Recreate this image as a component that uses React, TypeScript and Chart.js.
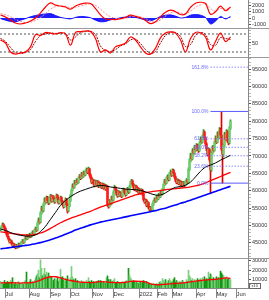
import React, { useEffect, useRef } from "react";
import { Chart, registerables } from "chart.js";

Chart.register(...registerables);
Chart.defaults.font.family = '"Liberation Sans", Arial, sans-serif';

// ---- daily price data (thousand VND) ----
const closes = [
  49.0, 49.6, 50.3, 49.8, 49.2, 48.4, 47.6, 46.8, 46.1, 45.3,
  45.6, 44.9, 44.3, 44.6, 44.0, 43.7, 44.3, 43.9, 44.6, 44.1,
  44.8, 45.1, 45.6, 45.2, 46.0, 46.6, 46.2, 47.0, 46.7, 47.4,
  46.9, 47.6, 48.1, 47.7, 48.6, 49.1, 48.7, 50.6, 51.6, 51.0,
  53.6, 55.1, 54.3, 56.1, 57.6, 56.8, 58.1, 57.2, 56.5, 57.9,
  58.6, 57.0, 58.3, 57.6, 56.8, 57.6, 58.7, 57.9, 56.5, 57.3,
  58.1, 57.0, 56.2, 55.4, 56.8, 57.6, 56.0, 54.2, 55.6, 57.1,
  58.6, 60.1, 61.6, 61.0, 62.6, 62.0, 63.1, 62.4, 63.6, 64.3,
  63.6, 64.9, 64.1, 65.3, 64.6, 65.6, 66.1, 65.3, 66.3, 64.6,
  63.8, 62.5, 63.1, 62.0, 61.5, 62.7, 61.8, 62.6, 61.2, 62.1,
  61.5, 61.0, 61.9, 60.8, 61.6, 60.5, 61.3, 56.1, 55.5, 57.1,
  56.2, 58.1, 57.3, 59.6, 61.0, 60.2, 59.0, 58.5, 59.7, 58.8,
  59.3, 58.4, 59.9, 60.4, 59.5, 58.8, 60.0, 60.6, 59.6, 61.1,
  62.3, 62.9, 61.9, 61.0, 60.4, 61.3, 60.0, 60.7, 59.5, 60.3,
  59.4, 60.2, 59.0, 57.5, 56.8, 57.3, 55.8, 56.6, 55.2, 54.6,
  55.1, 54.5, 56.1, 56.9, 57.6, 57.0, 58.3, 57.7, 58.9, 58.3,
  59.6, 59.0, 60.3, 61.6, 62.9, 62.2, 63.6, 64.1, 63.2, 64.9,
  65.3, 64.5, 65.9, 65.0, 64.0, 63.0, 62.4, 63.1, 62.0, 62.7,
  61.8, 62.4, 61.5, 62.3, 61.6, 62.5, 63.1, 62.5, 66.1, 68.6,
  70.1, 69.2, 71.6, 70.8, 72.6, 71.8, 73.1, 72.2, 71.5, 73.6,
  74.9, 74.0, 75.6, 76.9, 75.2, 73.5, 72.0, 70.5, 71.9, 69.0,
  66.0, 70.8, 72.5, 71.6, 73.8, 75.2, 74.0, 76.5, 75.3, 77.5,
  76.0, 72.0, 70.5, 73.0, 76.2, 74.8, 77.0, 74.5, 73.8, 78.0,
  80.0,
];
const highs = [
  49.5, 50.0, 50.8, 50.6, 50.0, 49.4, 48.6, 47.9, 47.0, 46.3,
  46.0, 45.8, 45.2, 45.0, 44.8, 44.2, 44.6, 44.5, 45.0, 44.9,
  45.1, 45.5, 46.0, 45.9, 46.3, 47.0, 47.0, 47.4, 47.3, 47.8,
  47.6, 48.0, 48.5, 48.4, 49.0, 49.6, 49.5, 51.0, 52.2, 52.0,
  54.0, 55.6, 55.5, 56.5, 58.0, 58.0, 58.5, 58.4, 57.5, 58.2,
  59.0, 58.8, 58.7, 58.6, 57.9, 58.0, 59.1, 58.9, 58.1, 57.7,
  58.5, 58.3, 57.2, 56.5, 57.2, 58.0, 57.8, 56.2, 56.0, 57.5,
  59.0, 60.5, 62.0, 62.0, 63.0, 63.0, 63.5, 63.4, 64.0, 64.7,
  64.6, 65.3, 65.2, 65.7, 65.6, 66.0, 66.6, 66.4, 66.8, 66.5,
  64.9, 64.0, 63.5, 63.3, 62.3, 63.1, 62.9, 63.0, 62.8, 62.5,
  62.4, 61.8, 62.3, 62.1, 62.0, 61.8, 61.7, 61.5, 56.6, 57.5,
  57.4, 58.5, 58.4, 60.0, 61.6, 61.2, 60.4, 59.3, 60.1, 59.9,
  59.7, 59.5, 60.3, 60.8, 60.6, 59.7, 60.4, 61.0, 60.8, 61.5,
  62.8, 63.3, 63.1, 62.1, 61.3, 61.7, 61.5, 61.1, 60.9, 60.7,
  60.5, 60.6, 60.4, 59.2, 57.8, 57.7, 57.5, 57.0, 56.8, 55.5,
  55.5, 55.3, 56.5, 57.3, 58.0, 57.9, 58.7, 58.6, 59.3, 59.2,
  60.0, 59.9, 60.7, 62.0, 63.3, 63.2, 64.0, 64.6, 64.4, 65.3,
  66.0, 65.6, 66.3, 66.2, 65.3, 64.3, 63.3, 63.5, 63.3, 63.1,
  62.9, 62.8, 62.6, 62.7, 62.5, 62.9, 63.5, 63.3, 66.6, 69.2,
  70.8, 70.6, 72.1, 72.0, 73.1, 73.0, 73.6, 73.4, 72.6, 74.1,
  75.5, 75.3, 76.1, 77.6, 77.2, 75.5, 73.8, 72.3, 72.4, 72.1,
  69.4, 71.3, 73.0, 72.9, 74.3, 75.8, 75.5, 77.0, 76.8, 78.2,
  78.0, 82.8, 72.5, 73.5, 76.8, 76.6, 77.6, 77.3, 75.0, 78.5,
  80.4,
];
const lows = [
  48.5, 48.8, 49.4, 49.5, 48.9, 48.0, 47.2, 46.5, 45.8, 45.0,
  45.0, 44.6, 44.0, 44.0, 43.7, 43.3, 43.5, 43.5, 43.7, 43.8,
  43.9, 44.5, 44.9, 44.9, 45.0, 45.8, 45.9, 46.0, 46.4, 46.5,
  46.5, 46.7, 47.4, 47.3, 47.5, 48.3, 48.3, 48.5, 50.3, 50.5,
  50.8, 53.2, 53.8, 54.0, 55.8, 56.4, 56.5, 56.9, 56.0, 56.2,
  57.6, 56.7, 56.8, 57.2, 56.4, 56.5, 57.4, 57.5, 56.2, 56.2,
  57.0, 56.7, 55.8, 55.0, 55.2, 56.5, 55.7, 53.6, 54.0, 55.4,
  56.9, 58.4, 59.9, 60.6, 60.8, 61.6, 61.8, 62.0, 62.2, 63.3,
  63.2, 63.4, 63.7, 63.9, 64.2, 64.4, 65.3, 64.9, 65.1, 64.2,
  63.4, 62.1, 62.2, 61.7, 61.1, 61.3, 61.4, 61.6, 60.9, 61.0,
  61.1, 60.6, 60.8, 60.4, 60.6, 60.1, 60.3, 55.6, 55.0, 55.3,
  55.8, 56.0, 57.0, 57.1, 59.4, 59.8, 58.7, 58.1, 58.3, 58.4,
  58.5, 58.0, 58.2, 59.6, 59.1, 58.4, 58.6, 59.7, 59.2, 59.4,
  60.9, 62.0, 61.5, 60.6, 60.0, 60.2, 59.7, 59.8, 59.1, 59.3,
  59.0, 59.2, 58.6, 57.1, 56.4, 56.5, 55.4, 55.5, 54.8, 54.2,
  54.2, 54.0, 54.3, 55.8, 56.6, 56.7, 56.8, 57.3, 57.5, 58.0,
  58.1, 58.7, 58.8, 60.1, 61.4, 61.8, 62.0, 63.3, 62.8, 63.0,
  64.6, 64.1, 64.3, 64.6, 63.6, 62.6, 62.0, 62.2, 61.7, 61.8,
  61.4, 61.6, 61.1, 61.3, 61.2, 61.4, 62.2, 62.1, 62.3, 65.8,
  68.2, 68.7, 69.0, 70.3, 70.6, 71.3, 71.5, 71.8, 71.0, 71.3,
  73.3, 73.6, 73.8, 75.3, 74.8, 73.0, 71.5, 70.0, 70.2, 68.5,
  59.3, 65.6, 70.5, 71.1, 71.4, 73.5, 73.6, 73.8, 74.9, 75.0,
  75.5, 71.5, 62.2, 69.8, 72.6, 74.3, 74.5, 73.9, 73.2, 73.5,
  77.6,
];
const firstOpen = 48.8;

// daily volume (thousand shares)
const volumes = [
  8, 6, 7, 5, 9, 6, 7, 8, 6, 7,
  9, 7, 12, 6, 5, 7, 6, 5, 8, 6,
  5, 6, 7, 5, 8, 9, 18, 7, 6, 8,
  10, 7, 8, 6, 9, 11, 14, 16, 20, 12,
  31, 22, 14, 16, 22, 15, 18, 12, 17, 14,
  12, 13, 10, 9, 11, 10, 9, 12, 8, 10,
  21, 12, 13, 9, 8, 11, 10, 14, 9, 8,
  12, 24, 13, 10, 9, 11, 8, 9, 7, 8,
  6, 9, 7, 8, 6, 7, 9, 6, 12, 8,
  7, 9, 6, 8, 7, 6, 8, 7, 9, 6,
  9, 7, 6, 8, 7, 6, 12, 14, 10, 8,
  10, 7, 8, 9, 11, 7, 6, 8, 7, 6,
  7, 6, 8, 7, 6, 8, 9, 7, 22, 15,
  12, 10, 8, 9, 7, 6, 8, 7, 6, 8,
  7, 6, 8, 9, 7, 6, 8, 7, 6, 5,
  6, 5, 4, 6, 5, 4, 6, 5, 4, 7,
  8, 6, 11, 9, 7, 10, 8, 6, 9, 11,
  9, 7, 8, 10, 12, 7, 9, 8, 6, 8,
  7, 6, 9, 8, 6, 7, 10, 8, 20, 14,
  12, 9, 11, 8, 10, 7, 9, 11, 8, 10,
  11, 9, 12, 10, 13, 9, 11, 10, 18, 12,
  16, 14, 10, 12, 9, 11, 13, 10, 12, 11,
  19, 17, 15, 14, 12, 11, 13, 10, 11, 9,
  10,
];

// ---- indicator lines, read at every 5th session ----
const sampleDays = [
  0, 5, 10, 15, 20, 25, 30, 35, 40, 45,
  50, 55, 60, 65, 70, 75, 80, 85, 90, 95,
  100, 105, 110, 115, 120, 125, 130, 135, 140, 145,
  150, 155, 160, 165, 170, 175, 180, 185, 190, 195,
  200, 205, 210, 215, 220, 225, 230,
];
const ma20 = [
  49.0, 48.6, 48.0, 47.5, 47.2, 47.0, 47.0, 47.3, 48.3, 49.8,
  51.8, 53.8, 55.8, 57.2, 58.3, 59.2, 59.9, 60.4, 60.9, 61.3,
  61.5, 61.4, 61.1, 60.9, 60.7, 60.5, 60.4, 60.3, 60.1, 59.7,
  59.2, 58.8, 58.8, 59.4, 60.3, 61.0, 61.2, 61.6, 62.5, 64.0,
  65.6, 66.8, 67.4, 68.0, 68.8, 69.5, 70.2,
];
const ma50 = [
  48.2, 48.0, 47.8, 47.6, 47.4, 47.3, 47.3, 47.5, 47.9, 48.4,
  49.2, 50.0, 50.8, 51.5, 52.1, 52.6, 53.1, 53.6, 54.1, 54.7,
  55.3, 55.8, 56.3, 56.8, 57.3, 57.8, 58.3, 58.8, 59.2, 59.5,
  59.7, 59.9, 60.1, 60.3, 60.5, 60.6, 60.8, 60.9, 61.1, 61.4,
  61.8, 62.3, 62.9, 63.5, 64.1, 64.7, 65.3,
];
const ma200 = [
  43.3, 43.5, 43.7, 43.9, 44.1, 44.3, 44.5, 44.8, 45.1, 45.5,
  45.9, 46.4, 46.9, 47.5, 48.1, 48.7, 49.2, 49.7, 50.2, 50.6,
  51.0, 51.3, 51.6, 51.9, 52.2, 52.5, 52.8, 53.1, 53.4, 53.7,
  54.0, 54.3, 54.7, 55.0, 55.5, 55.9, 56.4, 56.8, 57.3, 57.8,
  58.3, 58.8, 59.3, 59.8, 60.3, 60.8, 61.3,
];
const macdLine = [
  480, 160, -320, -800, -950, -800, -480, 0, 800, 1750,
  2400, 2050, 1900, 1750, 1400, 1900, 2200, 2350, 2300, 1500,
  500, -150, -200, -250, -100, 100, 450, 250, 50, -400,
  -900, -600, 200, 900, 1250, 1000, 550, 650, 1700, 2350,
  2500, 2300, 600, 1000, 1900, 1150, 1750,
];
const macdSignal = [
  700, 500, 200, -200, -550, -700, -650, -400, 100, 700,
  1400, 1800, 1900, 1850, 1650, 1700, 1900, 2100, 2250, 2000,
  1400, 700, 200, -50, -150, -50, 200, 300, 200, -100,
  -500, -650, -300, 300, 800, 1000, 800, 700, 1100, 1700,
  2100, 2300, 1500, 1100, 1500, 1400, 1550,
];
const macdHist = [
  -100, -350, -550, -600, -350, -100, 200, 400, 550, 650,
  700, 400, 100, -50, -150, 100, 250, 200, 50, -350,
  -600, -550, -300, -150, 50, 150, 250, 100, -100, -300,
  -450, -150, 250, 450, 500, 300, 0, 100, 450, 550,
  450, 100, -950, -500, 250, -150, 250,
];
const stochK = [
  60, 50, 20, 13, 17, 20, 37, 78, 75, 85,
  83, 80, 85, 80, 43, 85, 88, 90, 88, 65,
  20, 27, 17, 37, 43, 50, 70, 60, 37, 17,
  13, 33, 67, 83, 87, 83, 60, 20, 65, 85,
  84, 70, 27, 55, 83, 55, 70,
];
const stochD = [
  65, 55, 35, 18, 15, 18, 28, 55, 75, 80,
  83, 82, 82, 82, 60, 70, 85, 88, 89, 78,
  40, 25, 22, 28, 40, 47, 60, 63, 48, 28,
  15, 22, 50, 75, 85, 85, 72, 38, 45, 75,
  85, 78, 45, 42, 68, 65, 62,
];
const volMa = [
  6.5, 6.5, 6.6, 6.5, 6.3, 6.5, 6.6, 7.5, 9.5, 11.8,
  13.0, 13.0, 11.8, 10.2, 9.0, 8.0, 7.3, 7.0, 6.8, 7.2,
  7.8, 7.5, 7.0, 6.8, 6.8, 7.0, 8.0, 8.2, 8.0, 7.5,
  5.5, 4.5, 4.5, 5.0, 5.5, 5.8, 6.3, 6.8, 7.6, 8.3,
  9.0, 9.5, 10.0, 10.2, 11.0, 11.8, 11.2,
];

// ---- axes / annotations ----
const monthTicks = [5, 29, 50, 70, 92, 113, 139, 157, 172, 196, 216, 236];
const monthLabels = ["Jul", "Aug", "Sep", "Oct", "Nov", "Dec", "2022", "Feb", "Mar", "Apr", "May", "Jun"];
const priceTicks = [45000, 50000, 55000, 60000, 65000, 70000, 75000, 80000, 85000, 90000, 95000];
const macdTicks = [-1000, 0, 1000, 2000];
const stochTicks = [50];
const stochBands = [80, 20];
const volTicks = [10000, 20000, 30000];
const fibLow = 62200;
const fibHigh = 82800;
const fibLevels = [161.8, 100, 61.8, 50, 38.2, 23.6, 0];
const fibStartDay = 210;

const X_MIN = -0.5;
const X_MAX = 247.5;
const AXIS_W = 21;
const K = 1000;

const fibValue = (p: number) => fibLow + ((fibHigh - fibLow) * p) / 100;
const pts = (xs: number[], ys: number[], mul = 1) => xs.map((x, i) => ({ x, y: ys[i] * mul }));
const opens = closes.map((c, i) => (i === 0 ? firstOpen : closes[i - 1]));
const isUp = closes.map((c, i) => c >= opens[i]);

const framePlugin = {
  id: "frame",
  afterDraw(chart: any, _a: any, opts: any) {
    if (!opts || !opts.top) return;
    const { ctx, chartArea } = chart;
    ctx.save();
    ctx.strokeStyle = "#9a9a9a";
    ctx.lineWidth = 1;
    const y = Math.round(chartArea.top) + 0.5;
    ctx.beginPath();
    ctx.moveTo(0, y);
    ctx.lineTo(chart.width, y);
    ctx.stroke();
    ctx.restore();
  },
};

const fibLabelPlugin = {
  id: "fibLabels",
  afterDatasetsDraw(chart: any) {
    const { ctx, scales } = chart;
    ctx.save();
    ctx.font = '5px "Liberation Sans", Arial, sans-serif';
    ctx.fillStyle = "#6b6bff";
    ctx.textAlign = "right";
    ctx.textBaseline = "middle";
    const x = scales.x.getPixelForValue(fibStartDay) - 2;
    fibLevels.forEach((p) => {
      ctx.fillText(p.toFixed(1) + "%", x, scales.y.getPixelForValue(fibValue(p)));
    });
    ctx.restore();
  },
};

const unitBoxPlugin = {
  id: "unitBox",
  afterDraw(chart: any) {
    const { ctx, chartArea } = chart;
    ctx.save();
    ctx.strokeStyle = "#666";
    ctx.lineWidth = 1;
    const x = chartArea.right + 1.5;
    const y = chartArea.bottom - 4.5;
    ctx.strokeRect(x, y, 11, 5);
    ctx.fillStyle = "#333";
    ctx.font = '4px "Liberation Sans", Arial, sans-serif';
    ctx.textBaseline = "middle";
    ctx.fillText("x10", x + 2, y + 2.8);
    ctx.restore();
  },
};

function hiddenX() {
  return { type: "linear", min: X_MIN, max: X_MAX, offset: false, display: false, grid: { offset: false } };
}

function rightAxis(min: number, max: number, step: number, majors: number[]) {
  const all: number[] = [];
  for (let v = Math.ceil(min / step) * step; v <= max; v += step) all.push(v);
  return {
    type: "linear",
    position: "right",
    min,
    max,
    afterBuildTicks: (s: any) => {
      s.ticks = all.map((value) => ({ value }));
    },
    afterFit: (s: any) => {
      s.width = AXIS_W;
      s.paddingTop = 0;
      s.paddingBottom = 0;
    },
    ticks: {
      autoSkip: false,
      padding: 1,
      color: "#333",
      font: { size: 5.5 },
      callback: (v: number) => (majors.includes(v) ? String(v) : ""),
    },
    grid: {
      drawOnChartArea: false,
      drawTicks: true,
      tickLength: 3,
      color: (c: any) => (c.tick && majors.includes(c.tick.value) ? "#555" : "#b5b5b5"),
    },
    border: { display: true, color: "#888" },
  };
}

const baseOptions = {
  responsive: false,
  animation: false,
  devicePixelRatio: 1,
  events: [],
  layout: { padding: 0 },
};

const line = (data: any[], color: string, width: number, extra: any = {}) => ({
  type: "line",
  data,
  borderColor: color,
  borderWidth: width,
  pointRadius: 0,
  tension: 0.4,
  fill: false,
  order: 0,
  ...extra,
});

function macdConfig() {
  return {
    type: "line",
    data: {
      datasets: [
        line(pts(sampleDays, macdHist), "#0000ff", 0.8, { backgroundColor: "#2020ff", fill: "origin", tension: 0.3, order: 3 }),
        line(pts(sampleDays, macdSignal), "#ff8a8a", 1, { borderDash: [2, 1.5], order: 2 }),
        line(pts(sampleDays, macdLine), "#ff0000", 1.2, { order: 1 }),
      ],
    },
    options: {
      ...baseOptions,
      scales: { x: hiddenX(), y: rightAxis(-1587, 2857, 500, macdTicks) },
      plugins: { legend: { display: false }, tooltip: { enabled: false }, frame: { top: false } },
    },
    plugins: [framePlugin],
  };
}

function stochConfig() {
  return {
    type: "line",
    data: {
      datasets: [
        ...stochBands.map((b) =>
          line([{ x: X_MIN, y: b }, { x: X_MAX, y: b }], "#555555", 1, { borderDash: [2, 2], tension: 0, order: 3 })
        ),
        line(pts(sampleDays, stochD), "#990000", 1, { borderDash: [2, 1], order: 2 }),
        line(pts(sampleDays, stochK), "#ff0000", 1.2, { order: 1 }),
      ],
    },
    options: {
      ...baseOptions,
      scales: { x: hiddenX(), y: rightAxis(3.3, 100, 10, stochTicks) },
      plugins: { legend: { display: false }, tooltip: { enabled: false }, frame: { top: true } },
    },
    plugins: [framePlugin],
  };
}

function priceConfig() {
  const days = closes.map((_, i) => i);
  return {
    type: "bar",
    data: {
      datasets: [
        {
          type: "bar",
          data: days.map((i) => ({ x: i, y: [lows[i] * K, highs[i] * K] })),
          backgroundColor: days.map((i) => (isUp[i] ? "#1f9f1f" : "#e00000")),
          barThickness: 1,
          grouped: false,
          borderWidth: 0,
          order: 5,
        },
        {
          type: "bar",
          data: days.map((i) => ({
            x: i,
            y: [Math.min(opens[i], closes[i]) * K, Math.max(opens[i], closes[i]) * K],
          })),
          backgroundColor: days.map((i) => (isUp[i] ? "#6fcf6f" : "#ff1a1a")),
          barThickness: 1.8,
          grouped: false,
          borderWidth: 0,
          order: 4,
        },
        ...fibLevels.map((p) => {
          const solid = p === 0 || p === 100;
          return line(
            [{ x: fibStartDay, y: fibValue(p) }, { x: X_MAX, y: fibValue(p) }],
            solid ? "#5a5aff" : "#8c8cff",
            1,
            { borderDash: solid ? [] : [1.5, 1.5], tension: 0, order: 3 }
          );
        }),
        line(pts(sampleDays, ma200, K), "#0000ff", 1.6, { order: 2 }),
        line(pts(sampleDays, ma50, K), "#ff0000", 1.3, { order: 1 }),
        line(pts(sampleDays, ma20, K), "#000000", 1, { order: 0 }),
      ],
    },
    options: {
      ...baseOptions,
      scales: { x: hiddenX(), y: rightAxis(40682, 98449, 1000, priceTicks) },
      plugins: { legend: { display: false }, tooltip: { enabled: false }, frame: { top: true } },
    },
    plugins: [framePlugin, fibLabelPlugin],
  };
}

function volConfig() {
  const days = volumes.map((_, i) => i);
  return {
    type: "bar",
    data: {
      datasets: [
        {
          type: "bar",
          data: days.map((i) => ({ x: i, y: volumes[i] * K })),
          backgroundColor: days.map((i) => (isUp[i] ? "#7ccf7c" : "#129812")),
          barThickness: 1,
          grouped: false,
          borderWidth: 0,
          order: 2,
        },
        line(pts(sampleDays, volMa, K), "#ff0000", 1.3, { order: 0 }),
      ],
    },
    options: {
      ...baseOptions,
      scales: {
        x: {
          type: "linear",
          position: "bottom",
          min: X_MIN,
          max: X_MAX,
          offset: false,
          afterBuildTicks: (s: any) => {
            s.ticks = monthTicks.map((value) => ({ value }));
          },
          afterFit: (s: any) => {
            s.height = 12;
            s.paddingLeft = 0;
            s.paddingRight = 0;
          },
          ticks: {
            autoSkip: false,
            maxRotation: 0,
            minRotation: 0,
            align: "start",
            padding: -7,
            color: "#333",
            font: { size: 5.8 },
            callback: (_v: number, i: number) => monthLabels[i],
          },
          grid: { drawOnChartArea: false, drawTicks: true, tickLength: 10, color: "#888", offset: false },
          border: { display: true, color: "#888" },
        },
        y: rightAxis(1000, 33000, 5000, volTicks),
      },
      plugins: { legend: { display: false }, tooltip: { enabled: false }, frame: { top: true } },
    },
    plugins: [framePlugin, unitBoxPlugin],
  };
}

export default function App() {
  const macdRef = useRef<HTMLCanvasElement>(null);
  const stochRef = useRef<HTMLCanvasElement>(null);
  const priceRef = useRef<HTMLCanvasElement>(null);
  const volRef = useRef<HTMLCanvasElement>(null);

  useEffect(() => {
    const charts = [
      new Chart(macdRef.current as HTMLCanvasElement, macdConfig() as any),
      new Chart(stochRef.current as HTMLCanvasElement, stochConfig() as any),
      new Chart(priceRef.current as HTMLCanvasElement, priceConfig() as any),
      new Chart(volRef.current as HTMLCanvasElement, volConfig() as any),
    ];
    return () => charts.forEach((c) => c.destroy());
  }, []);

  const pos = (top: number): React.CSSProperties => ({ position: "absolute", left: 0, top });
  return (
    <div style={{ position: "fixed", left: 0, top: 0, width: 269, height: 300, background: "#fff", overflow: "hidden" }}>
      <canvas ref={macdRef} width={269} height={28} style={pos(0)} />
      <canvas ref={stochRef} width={269} height={29} style={pos(28)} />
      <canvas ref={priceRef} width={269} height={201} style={pos(57)} />
      <canvas ref={volRef} width={269} height={42} style={pos(258)} />
    </div>
  );
}
